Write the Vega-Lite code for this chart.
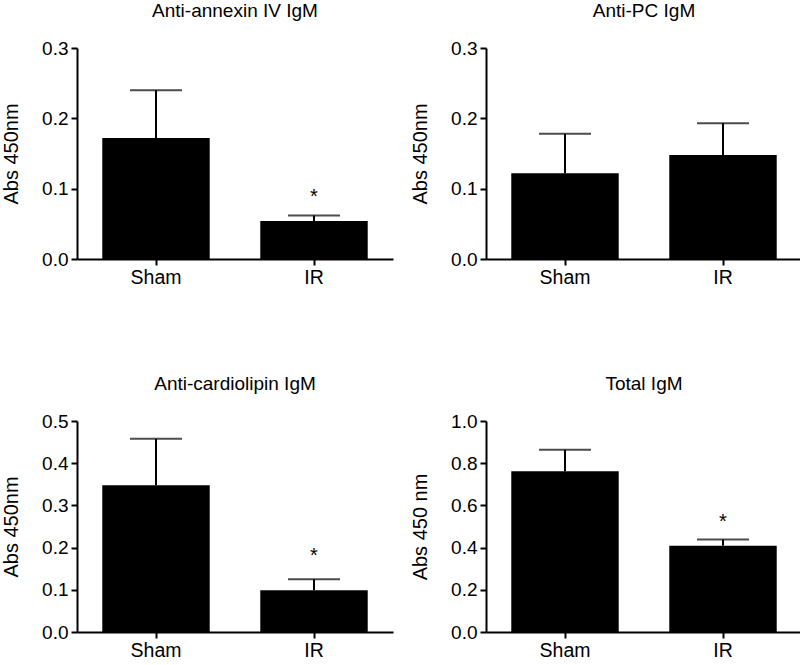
{
  "$schema": "https://vega.github.io/schema/vega-lite/v6.json",
  "background": "white",
  "padding": {"left": 1, "top": 2, "right": 5, "bottom": 0},
  "datasets": {
    "bars": [
      {"panel": "annexin", "group": "Sham", "value": 0.172, "err": 0.240, "star": null},
      {"panel": "annexin", "group": "IR", "value": 0.054, "err": 0.062, "star": 0.092},
      {"panel": "pc", "group": "Sham", "value": 0.122, "err": 0.178, "star": null},
      {"panel": "pc", "group": "IR", "value": 0.148, "err": 0.193, "star": null},
      {"panel": "cardiolipin", "group": "Sham", "value": 0.348, "err": 0.458, "star": null},
      {"panel": "cardiolipin", "group": "IR", "value": 0.099, "err": 0.125, "star": 0.188},
      {"panel": "total", "group": "Sham", "value": 0.762, "err": 0.864, "star": null},
      {"panel": "total", "group": "IR", "value": 0.409, "err": 0.438, "star": 0.537}
    ]
  },
  "config": {
    "view": {"stroke": null},
    "font": "Liberation Sans",
    "axis": {
      "grid": false,
      "domainColor": "black",
      "domainWidth": 2,
      "tickColor": "black",
      "tickWidth": 2,
      "tickSize": 6,
      "labelColor": "black",
      "titleColor": "black",
      "labelFont": "Liberation Sans",
      "titleFont": "Liberation Sans",
      "titleFontWeight": "normal"
    },
    "axisX": {"labelFontSize": 19.5, "labelPadding": 3, "labelAngle": 0},
    "axisY": {"labelFontSize": 19, "labelPadding": 3, "titleFontSize": 20, "titlePadding": 20},
    "title": {"fontSize": 19, "fontWeight": "normal", "color": "black", "font": "Liberation Sans", "offset": 18, "frame": "group"},
    "bar": {"color": "black"},
    "rule": {"color": "black", "strokeWidth": 2},
    "tick": {"color": "black", "thickness": 2}
  },
  "vconcat": [
    {
      "hconcat": [
        {
          "title": "Anti-annexin IV IgM",
          "width": 316, "height": 211,
          "data": {"name": "bars"},
          "transform": [{"filter": "datum.panel === 'annexin'"}],
          "encoding": {
            "x": {"field": "group", "type": "nominal", "sort": ["Sham", "IR"], "title": null,
                  "scale": {"paddingInner": 0.32, "paddingOuter": 0.16}},
            "y": {"type": "quantitative"}
          },
          "layer": [
            {"mark": "rule", "encoding": {"y": {"field": "value", "type": "quantitative", "scale": {"domain": [0, 0.3], "nice": false}, "axis": {"values": [0, 0.1, 0.2, 0.3], "format": ".1f"}, "title": "Abs 450nm"}, "y2": {"field": "err"}}},
            {"mark": {"type": "tick", "size": 52}, "encoding": {"y": {"field": "err", "type": "quantitative"}}},
            {"mark": "bar", "encoding": {"y": {"field": "value", "type": "quantitative"}}},
            {"mark": {"type": "text", "text": "*", "fontSize": 20, "baseline": "middle", "dy": 3}, "transform": [{"filter": "datum.star != null"}], "encoding": {"y": {"field": "star", "type": "quantitative"}}}
          ]
        },
        {
          "title": "Anti-PC IgM",
          "width": 316, "height": 211,
          "data": {"name": "bars"},
          "transform": [{"filter": "datum.panel === 'pc'"}],
          "encoding": {
            "x": {"field": "group", "type": "nominal", "sort": ["Sham", "IR"], "title": null,
                  "scale": {"paddingInner": 0.32, "paddingOuter": 0.16}},
            "y": {"type": "quantitative"}
          },
          "layer": [
            {"mark": "rule", "encoding": {"y": {"field": "value", "type": "quantitative", "scale": {"domain": [0, 0.3], "nice": false}, "axis": {"values": [0, 0.1, 0.2, 0.3], "format": ".1f"}, "title": "Abs 450nm"}, "y2": {"field": "err"}}},
            {"mark": {"type": "tick", "size": 52}, "encoding": {"y": {"field": "err", "type": "quantitative"}}},
            {"mark": "bar", "encoding": {"y": {"field": "value", "type": "quantitative"}}}
          ]
        }
      ],
      "spacing": 17
    },
    {
      "hconcat": [
        {
          "title": "Anti-cardiolipin IgM",
          "width": 316, "height": 211,
          "data": {"name": "bars"},
          "transform": [{"filter": "datum.panel === 'cardiolipin'"}],
          "encoding": {
            "x": {"field": "group", "type": "nominal", "sort": ["Sham", "IR"], "title": null,
                  "scale": {"paddingInner": 0.32, "paddingOuter": 0.16}},
            "y": {"type": "quantitative"}
          },
          "layer": [
            {"mark": "rule", "encoding": {"y": {"field": "value", "type": "quantitative", "scale": {"domain": [0, 0.5], "nice": false}, "axis": {"values": [0, 0.1, 0.2, 0.3, 0.4, 0.5], "format": ".1f"}, "title": "Abs 450nm"}, "y2": {"field": "err"}}},
            {"mark": {"type": "tick", "size": 52}, "encoding": {"y": {"field": "err", "type": "quantitative"}}},
            {"mark": "bar", "encoding": {"y": {"field": "value", "type": "quantitative"}}},
            {"mark": {"type": "text", "text": "*", "fontSize": 20, "baseline": "middle", "dy": 3}, "transform": [{"filter": "datum.star != null"}], "encoding": {"y": {"field": "star", "type": "quantitative"}}}
          ]
        },
        {
          "title": "Total IgM",
          "width": 316, "height": 211,
          "data": {"name": "bars"},
          "transform": [{"filter": "datum.panel === 'total'"}],
          "encoding": {
            "x": {"field": "group", "type": "nominal", "sort": ["Sham", "IR"], "title": null,
                  "scale": {"paddingInner": 0.32, "paddingOuter": 0.16}},
            "y": {"type": "quantitative"}
          },
          "layer": [
            {"mark": "rule", "encoding": {"y": {"field": "value", "type": "quantitative", "scale": {"domain": [0, 1.0], "nice": false}, "axis": {"values": [0, 0.2, 0.4, 0.6, 0.8, 1.0], "format": ".1f"}, "title": "Abs 450 nm"}, "y2": {"field": "err"}}},
            {"mark": {"type": "tick", "size": 52}, "encoding": {"y": {"field": "err", "type": "quantitative"}}},
            {"mark": "bar", "encoding": {"y": {"field": "value", "type": "quantitative"}}},
            {"mark": {"type": "text", "text": "*", "fontSize": 20, "baseline": "middle", "dy": 3}, "transform": [{"filter": "datum.star != null"}], "encoding": {"y": {"field": "star", "type": "quantitative"}}}
          ]
        }
      ],
      "spacing": 17
    }
  ],
  "spacing": 88
}
